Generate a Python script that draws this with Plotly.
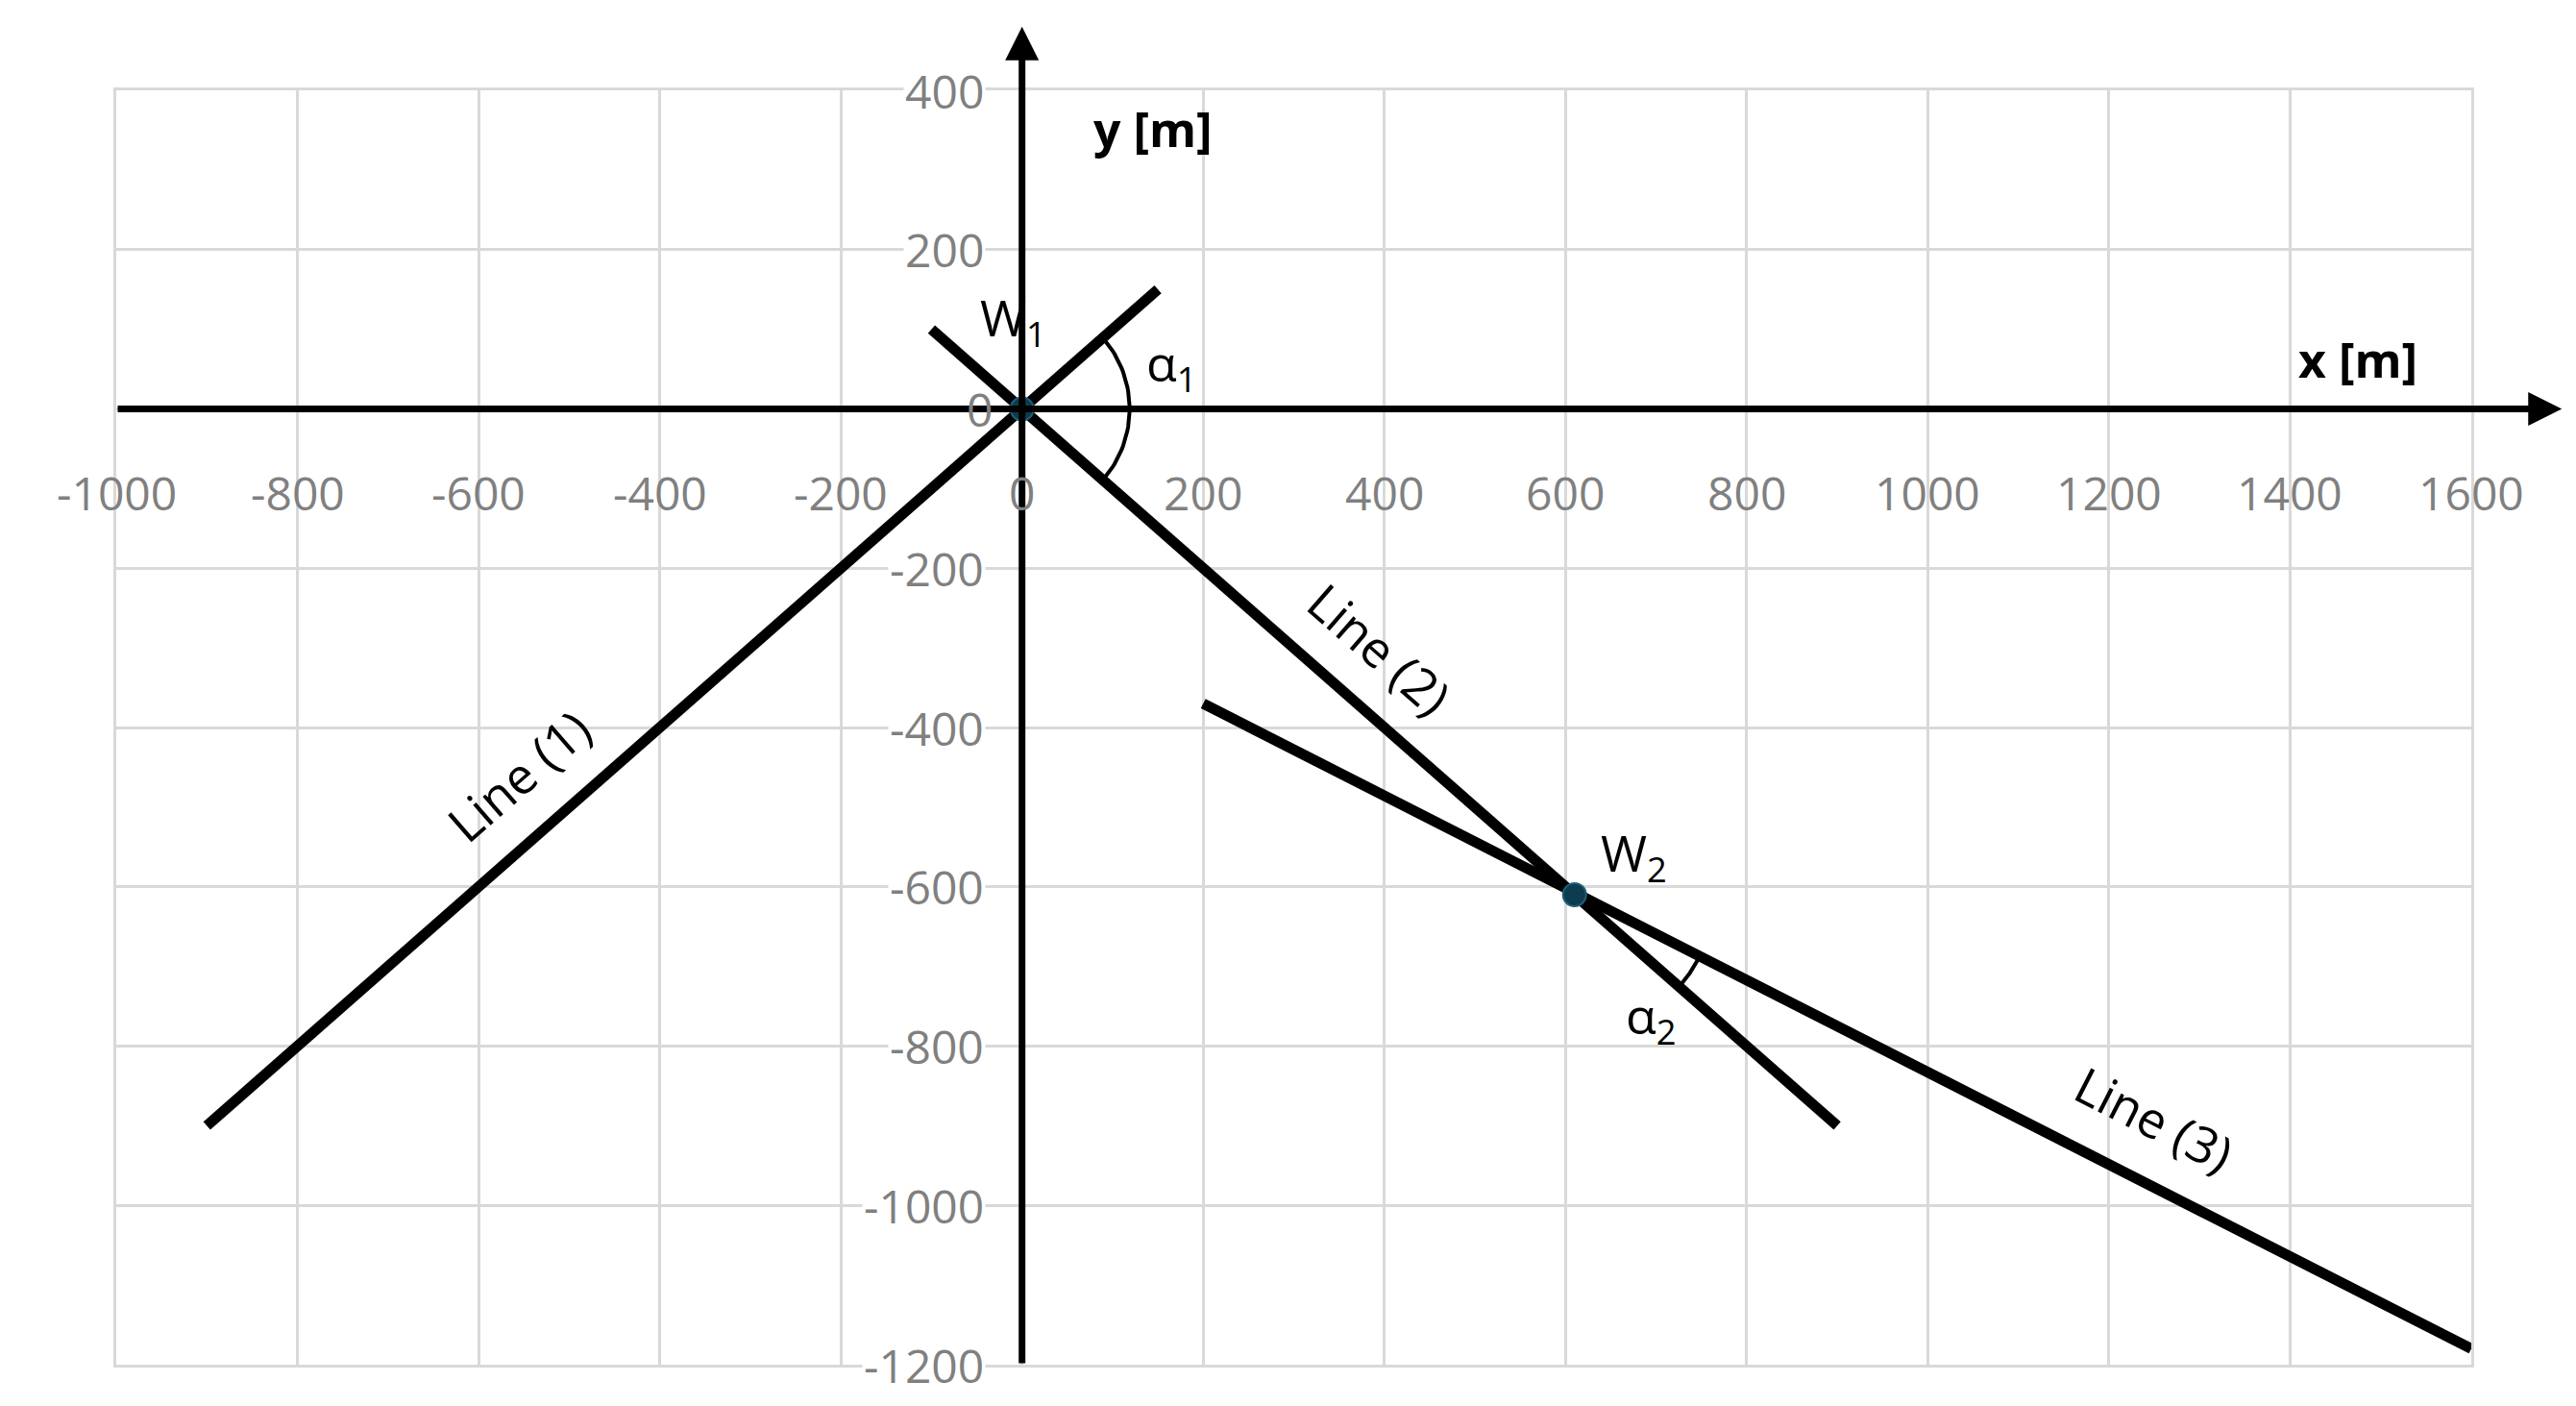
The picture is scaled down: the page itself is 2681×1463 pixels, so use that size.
import numpy as np
import plotly.graph_objects as go

# line end points [m]
line1_x = [-900, 150]
line1_y = [-900, 150]
line2_x = [-100, 900]
line2_y = [100, -900]
line3_x = [200, 1600]
line3_y = [-370, -1180]
wells_x = [0, 610]
wells_y = [0, -610]
x_ticks = list(range(-1000, 1601, 200))
y_ticks = list(range(-1200, 401, 200))

W, H = 2681, 1463
L, R, T, B = 113, 117, 86, 51
sx = (W - L - R) / 2600.0
sy = (H - T - B) / 1600.0
grey = "#808080"

def arc(cx, cy, r_px, a0, a1):
    t = np.linspace(a0, a1, 40)
    return cx + r_px * np.cos(t) / sx, cy + r_px * np.sin(t) / sy

def pang(x, y):
    return np.arctan2((y[1] - y[0]) * sy, (x[1] - x[0]) * sx)

fig = go.Figure()
for xs, ys in [(line1_x, line1_y), (line2_x, line2_y), (line3_x, line3_y)]:
    fig.add_trace(go.Scatter(x=xs, y=ys, mode="lines", line=dict(color="black", width=11), cliponaxis=False))

a_l1 = pang(line1_x, line1_y)
a_l2 = pang(line2_x, line2_y)
ax1, ay1 = arc(0, 0, 112, a_l2, a_l1)
fig.add_trace(go.Scatter(x=ax1, y=ay1, mode="lines", line=dict(color="black", width=4)))
a_l3 = pang(line3_x, line3_y)
ax2, ay2 = arc(wells_x[1], wells_y[1], 145, a_l2, a_l3)
fig.add_trace(go.Scatter(x=ax2, y=ay2, mode="lines", line=dict(color="black", width=4)))

fig.add_trace(go.Scatter(x=wells_x, y=wells_y, mode="markers",
                         marker=dict(color="#0d3b4f", size=24, symbol="circle",
                                     line=dict(color="#1f5f7a", width=2)),
                         cliponaxis=False))

# axes arrows
fig.add_annotation(x=1700, y=0, ax=-1000, ay=0, xref="x", yref="y", axref="x", ayref="y",
                   showarrow=True, arrowhead=2, arrowsize=1, arrowwidth=7, arrowcolor="black", text="")
fig.add_annotation(x=0, y=480, ax=0, ay=-1200, xref="x", yref="y", axref="x", ayref="y",
                   showarrow=True, arrowhead=2, arrowsize=1, arrowwidth=7, arrowcolor="black", text="")

fs = 48
for v in x_ticks:
    fig.add_annotation(x=v, y=-105, text=str(v), showarrow=False, font=dict(size=fs, color=grey))
for v in y_ticks:
    if v == 0:
        fig.add_annotation(x=-30, y=0, text="0", showarrow=False, xanchor="right",
                           font=dict(size=fs, color=grey))
        continue
    fig.add_annotation(x=-40, y=v, text=str(v), showarrow=False, xanchor="right",
                       font=dict(size=fs, color=grey), bgcolor="white")

def label(x, y, text, angle=0, size=fs, bold=False):
    fig.add_annotation(x=x, y=y, text=f"<b>{text}</b>" if bold else text, showarrow=False,
                       textangle=angle, font=dict(size=size, color="black"))

label(-556, -460, "Line (1)", -41, 52)
label(395, -300, "Line (2)", 41, 52)
label(1250, -890, "Line (3)", 27, 52)
label(-10, 112, "W<sub>1</sub>", 0, 52)
label(165, 55, "α<sub>1</sub>", 0, 52)
label(675, -560, "W<sub>2</sub>", 0, 52)
label(695, -765, "α<sub>2</sub>", 0, 52)
label(1475, 62, "x [m]", bold=True, size=50)
label(145, 352, "y [m]", bold=True, size=50)

fig.update_xaxes(range=[-1000, 1600], dtick=200, tick0=0, showgrid=True, gridcolor="#d9d9d9",
                 gridwidth=3, zeroline=False, showticklabels=False, showline=True, mirror=True,
                 linecolor="#d9d9d9", linewidth=3)
fig.update_yaxes(range=[-1200, 400], dtick=200, tick0=0, showgrid=True, gridcolor="#d9d9d9",
                 gridwidth=3, zeroline=False, showticklabels=False, showline=True, mirror=True,
                 linecolor="#d9d9d9", linewidth=3)
fig.update_layout(width=W, height=H, margin=dict(l=L, r=R, t=T, b=B), showlegend=False,
                  plot_bgcolor="white", paper_bgcolor="white",
                  font=dict(family="Open Sans, Noto Sans, sans-serif"))
fig.write_html("out.html")
